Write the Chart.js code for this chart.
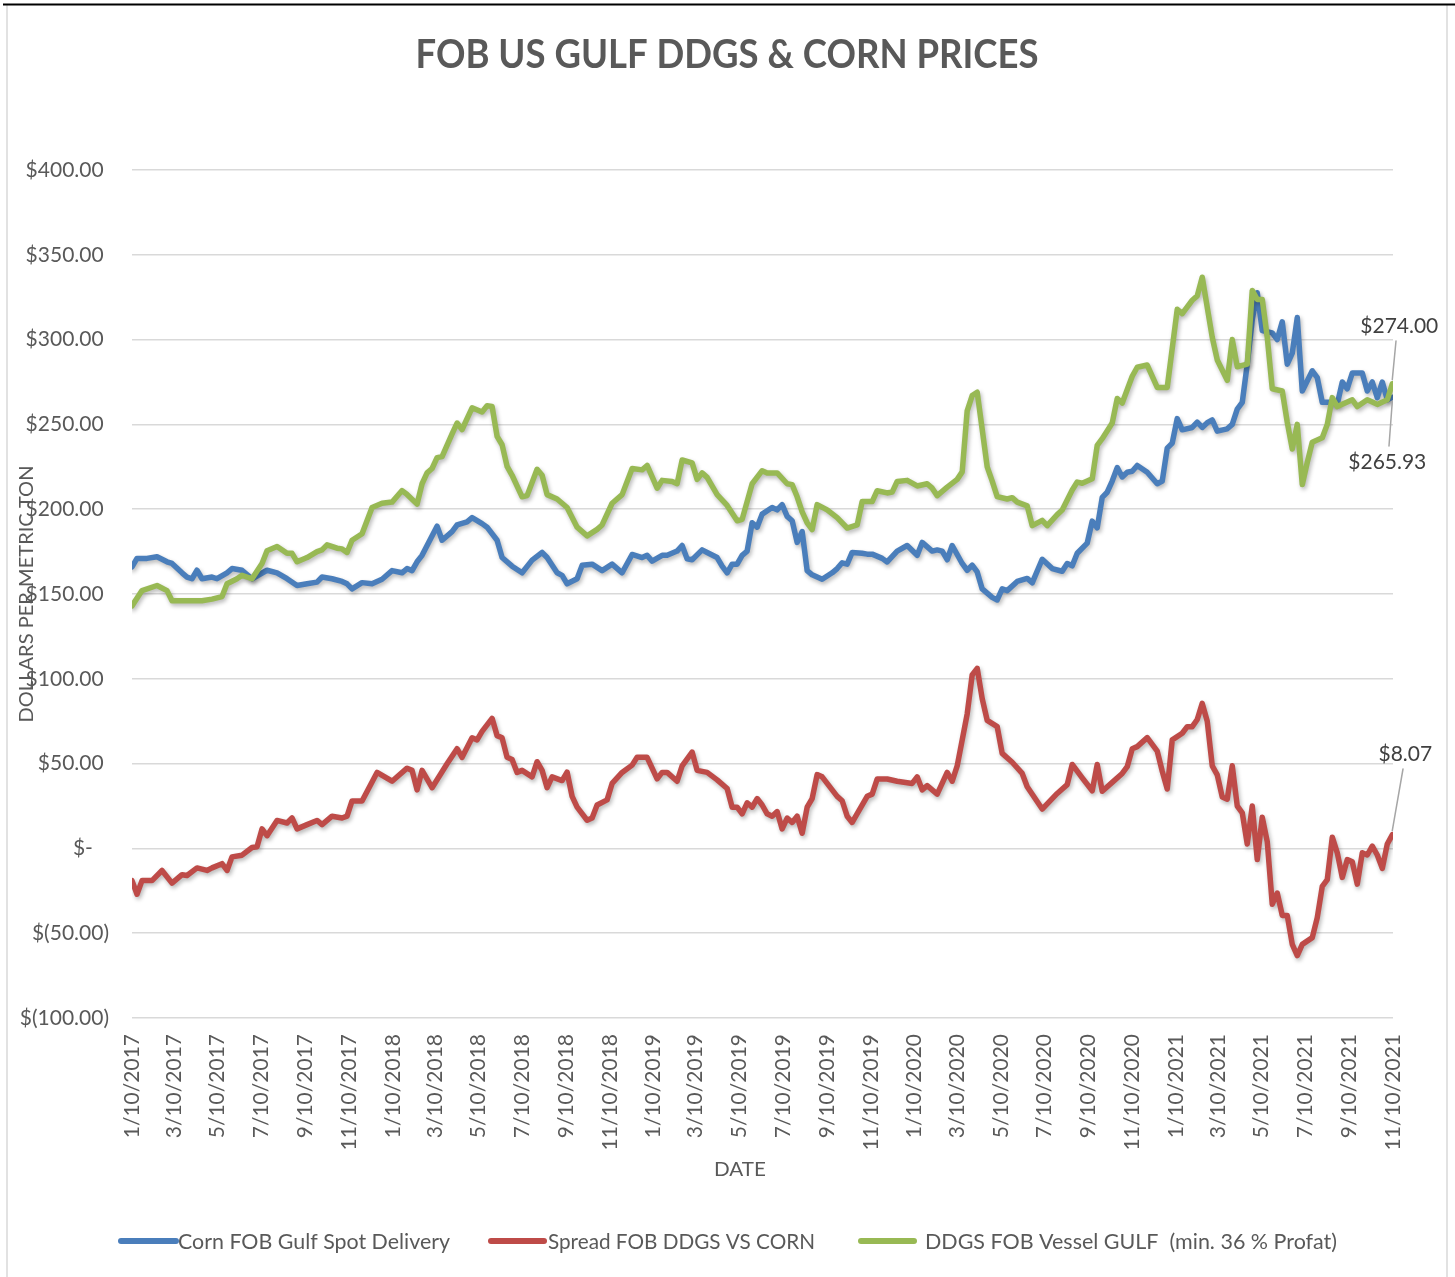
<!DOCTYPE html>
<html>
<head>
<meta charset="utf-8">
<title>FOB US Gulf DDGS &amp; Corn Prices</title>
<script src="https://cdn.jsdelivr.net/npm/chart.js@4.4.1/dist/chart.umd.min.js"></script>
<style>
  html, body { margin: 0; padding: 0; background: #fff; }
  #wrap { position: relative; width: 1455px; height: 1277px; }
</style>
</head>
<body>
<div id="wrap"><canvas id="chart"></canvas></div>
<script>
// x axis labels (every two months)
const tickLabels = ['1/10/2017', '3/10/2017', '5/10/2017', '7/10/2017', '9/10/2017', '11/10/2017',
  '1/10/2018', '3/10/2018', '5/10/2018', '7/10/2018', '9/10/2018', '11/10/2018',
  '1/10/2019', '3/10/2019', '5/10/2019', '7/10/2019', '9/10/2019', '11/10/2019',
  '1/10/2020', '3/10/2020', '5/10/2020', '7/10/2020', '9/10/2020', '11/10/2020',
  '1/10/2021', '3/10/2021', '5/10/2021', '7/10/2021', '9/10/2021', '11/10/2021'];
const yTicks = [-100, -50, 0, 50, 100, 150, 200, 250, 300, 350, 400];

// Corn FOB Gulf Spot Delivery ($/t), week number from 1/10/2017
const cornWeek = [0, 1, 3, 5, 7, 8, 10, 11, 12, 13, 14, 16, 17, 19, 20, 22, 24, 27, 29, 31, 33, 35, 37, 38, 40,
  42, 43, 44, 46, 48, 50, 52, 54, 55, 56, 57, 58, 61, 62, 64, 65, 67, 68, 70, 71, 73, 74, 76, 78, 80, 82, 83, 85,
  86, 87, 89, 90, 92, 94, 96, 98, 100, 102, 103, 104, 106, 107, 109, 110, 111, 112, 114, 115, 117, 118, 119, 120,
  121, 122, 123, 124, 125, 126, 128, 129, 130, 131, 132, 133, 134, 135, 136, 138, 140, 141, 142, 143, 144, 146,
  147, 148, 150, 151, 153, 155, 157, 158, 160, 161, 162, 163, 164, 166, 167, 168, 169, 170, 172, 173, 174, 175,
  177, 179, 180, 182, 184, 186, 187, 188, 189, 191, 192, 193, 194, 195, 196, 197, 198, 199, 200, 201, 203, 205,
  206, 207, 208, 209, 210, 212, 213, 214, 215, 216, 217, 219, 220, 221, 222, 223, 224, 225, 226, 228, 229, 230,
  231, 232, 233, 234, 236, 237, 238, 240, 241, 242, 243, 244, 246, 247, 248, 249, 250, 251, 252];
const cornPrice = [166, 171, 171, 172, 169, 168, 162.5, 160, 159, 164, 159, 160, 159, 162.5, 165, 164, 159, 164, 162.5, 159, 155, 156, 157, 160, 159,
  157.4, 156, 153, 156.7, 156, 158.7, 163.8, 162.5, 165, 163.8, 169, 172.8, 190, 181.7, 186.8, 190.7, 192.5, 195, 191.5, 189.4, 181.7, 171.5, 166.4, 162.5, 170, 174.5, 171.5, 162.5,
  161, 156, 159, 166.9, 167.6, 163.8, 167.6, 162.5, 173.3, 171.5, 172.8, 169.4, 172.8, 172.8, 175.3, 178.6, 170.7, 170.2, 176, 174.5, 171.5, 166.4, 162.5, 167.6,
  167.6, 172.8, 175.3, 192, 189.4, 197.1, 201, 199.6, 202.7, 195.8, 193.2, 180.4, 186.8, 163.8, 161.3, 158.7, 162.5, 165, 168.4, 167.6, 174.5, 174,
  173.5, 173.5, 171, 168.9, 175.3, 178.6, 172.8, 180.4, 175.3, 176, 175.3, 170.2, 178.6, 168, 164, 167, 163, 153, 148, 146.5, 153, 152,
  157.4, 159.2, 156.6, 170.5, 165, 163.4, 168, 166.6, 174, 180, 193, 189, 207, 210, 216.6, 224.5, 219, 221.8, 222.4, 225.8, 221.8, 215,
  216.6, 236, 239, 253.4, 246.8, 248.2, 251.3, 248.2, 251, 252.6, 246, 247.4, 250, 259, 263, 285.5, 311.8, 327.6, 305.3, 304, 300, 310.5,
  285.5, 292, 313, 269.7, 281.6, 277.6, 263, 263, 262, 275, 271, 280.3, 280.3, 269.7, 275, 265.8, 275, 264.5, 265.93];

// Spread FOB DDGS vs corn ($/t)
const spreadWeek = [0, 1, 2, 4, 6, 8, 10, 11, 13, 15, 16, 18, 19, 20, 22, 24, 25, 26, 27, 29, 31, 32, 33, 35, 37, 38, 40,
  42, 43, 44, 46, 49, 52, 55, 56, 57, 58, 60, 63, 65, 66, 68, 69, 70, 72, 73, 74, 75, 76, 77, 78, 80, 81, 82, 83, 84,
  86, 87, 88, 89, 91, 92, 93, 95, 96, 98, 100, 101, 103, 105, 106, 107, 109, 110, 112, 113, 115, 117, 119, 120, 121,
  122, 123, 124, 125, 126, 127, 128, 129, 130, 131, 132, 133, 134, 135, 136, 137, 138, 141, 142, 143, 144, 147, 148,
  149, 151, 153, 156, 157, 158, 159, 161, 163, 164, 165, 167, 168, 169, 170, 171, 173, 174, 176, 178, 179, 182, 185,
  187, 188, 190, 192, 193, 194, 196, 198, 199, 200, 201, 203, 205, 206, 207, 208, 210, 211, 212, 213, 214, 215, 216,
  217, 218, 219, 220, 221, 222, 223, 224, 225, 226, 227, 228, 229, 230, 231, 232, 233, 234, 236, 237, 238, 239, 240,
  241, 242, 243, 244, 245, 246, 247, 248, 249, 250, 251, 252];
const spreadValue = [-19, -27, -19, -19, -13, -20.5, -15.5, -16, -11.5, -13, -11.5, -9, -13, -5, -4, 0.5, 1, 11.5, 7.5, 16.5, 15, 18, 11.5, 14, 16.5, 14, 19,
  17.9, 19, 28, 28, 44.8, 39.6, 47.3, 46, 34.5, 46, 35.8, 49.9, 58.8, 53.7, 65.2, 64, 69, 76.7, 66.5, 65.2, 53.7, 52.4, 44.8, 46, 42.2, 51.1, 46, 35.8, 42.2,
  40, 45, 30.7, 24.3, 16.6, 17.9, 25.6, 28.6, 38.3, 44.8, 49.1, 53.7, 53.7, 41, 44.8, 44.8, 39.6, 48.6, 56.8, 46, 44.8, 40.4, 35.3, 24.3, 24.3,
  20.4, 26.9, 24.3, 29.4, 25.6, 20.4, 19, 21.7, 11.5, 17.9, 15.3, 19, 8.9, 24.3, 29.4, 43.5, 42.2, 30.7, 28.1, 19, 15.3, 30.7, 32,
  40.9, 40.9, 39.6, 38.3, 42.2, 34.5, 37, 32, 44.8, 39.6, 48.6, 79.3, 102.3, 106.2, 88.3, 75.5, 71.8, 56, 50.8, 44.2, 36.3, 23.2, 32.4,
  37.6, 49.5, 41.6, 34, 49.5, 33.7, 38.9, 44.2, 48.2, 58.7, 60, 65.3, 57.4, 45.5, 35, 64, 67.9, 71.8, 71.8, 76, 85.5, 75, 48.7,
  43.4, 30.3, 29, 48.7, 25, 21, 2.6, 25, -6.6, 18.4, 3.9, -32.9, -26.3, -39.5, -39.5, -56.6, -63.2, -56.6, -52.6, -40.8, -22.4, -18.4, 6.6,
  -2.6, -17.1, -6.6, -7.9, -21.1, -2.6, -3.9, 1.3, -3.9, -11.8, 2.6, 8.07];

// DDGS FOB Vessel Gulf ($/t)
const ddgsWeek = [0, 2, 5, 7, 8, 14, 16, 18, 19, 21, 22, 24, 26, 27, 29, 31, 32, 33, 35, 37, 38, 39, 41,
  42, 43, 44, 46, 48, 50, 52, 54, 55, 57, 58, 59, 60, 61, 62, 64, 65, 66, 68, 70, 71, 72, 73, 74, 75, 76, 78, 79, 81, 82, 83, 85,
  86, 87, 89, 91, 93, 94, 96, 98, 100, 102, 103, 105, 106, 108, 109, 110, 112, 113, 114, 115, 117, 119, 121, 122, 124, 126, 127,
  129, 131, 132, 133, 134, 135, 136, 137, 139, 141, 143, 145, 146, 148, 149, 151, 152, 153, 155, 157, 159, 160, 161, 163, 165,
  166, 167, 168, 169, 170, 171, 172, 173, 175, 176, 177, 179, 180, 182, 183, 185, 186, 188, 189, 190, 192, 193, 194, 196, 197,
  198, 200, 201, 203, 205, 207, 209, 210, 212, 213, 214, 216, 217, 219, 220, 221, 223, 224, 225, 226, 227, 228, 230, 231, 232,
  233, 234, 235, 236, 238, 239, 240, 241, 243, 244, 245, 247, 248, 249, 251, 252];
const ddgsPrice = [143, 152, 155, 152, 146, 146, 147, 148.5, 156, 159, 161, 159, 168, 175.5, 178, 174, 174, 169, 171.5, 175, 176, 179, 177,
  176.6, 174.5, 181.7, 185.5, 201, 203.5, 204.2, 211, 208.7, 203, 215, 221.4, 224, 230.4, 231, 244.4, 250.8, 247, 259.8, 257.3, 261, 260.6, 243, 238, 225.2, 220, 207.3, 208, 223.5, 220, 208.6, 206,
  203.5, 201, 189.4, 184.3, 188.1, 190.7, 203.5, 208.6, 224, 223.2, 225.8, 212.4, 217, 216.3, 215, 229, 227.3, 217.6, 221.4, 218.8, 208.6, 202.2, 193.2, 194, 215, 222.7, 221.4,
  221.4, 215, 214.5, 207.3, 198.4, 192, 188, 202.7, 199.6, 195, 188.9, 190.7, 204.5, 204.5, 210.9, 209.6, 210.1, 216.3, 217, 213.7, 215, 212.4, 208, 213, 217.6,
  222, 258, 267, 269, 247, 225, 216.6, 207.4, 206, 206.8, 204.2, 202, 190.3, 193.4, 190.3, 196.8, 199.5, 211.3, 216, 215.3, 217.9, 237.6, 241.6, 250.8, 265.3,
  262.6, 278.4, 283.7, 285, 271.8, 271.8, 317.9, 315.3, 323.2, 325.8, 336.8, 301.3, 288, 276, 300, 284, 285.5, 329, 323.7, 323.7, 301.3, 271, 269.7, 251.3, 235.5,
  250, 214.5, 227.6, 239.5, 242.1, 250, 265.8, 260.5, 263.2, 264.5, 260.5, 264.5, 263.2, 261.8, 264.5, 274];

const BLUE = '#4A7EBB';
const RED = '#BE4B48';
const GREEN = '#98B954';
const TEXT = '#595959';
const FONT = 'Lato, "Open Sans", sans-serif';

const startDay = Date.UTC(2017, 0, 10);
function dayOf(label) {
    const [m, d, y] = label.split('/').map(Number);
    return (Date.UTC(y, m - 1, d) - startDay) / 86400000;
}
const tickDays = tickLabels.map(dayOf);

function toPoints(weeks, values) {
    return weeks.map((w, i) => ({ x: w * 7, y: values[i] }));
}

function money(v) {
    if (v === 0) return '$-   ';
    const s = Math.abs(v).toFixed(2);
    return v < 0 ? '$(' + s + ')' : '$' + s + ' ';
}

// draw a text squeezed/stretched to a given width
function fitText(ctx, text, x, y, width, font, align) {
    ctx.save();
    ctx.font = font;
    const w = ctx.measureText(text).width;
    const k = width / w;
    ctx.translate(x, y);
    ctx.scale(k, 1);
    ctx.textAlign = align || 'left';
    ctx.fillText(text, 0, 0);
    ctx.restore();
}

// soft shadow under each line, like the Excel original
const lineShadow = {
    id: 'lineShadow',
    beforeDatasetDraw(chart) {
        const c = chart.ctx;
        c.save();
        c.shadowColor = 'rgba(0, 0, 0, 0.28)';
        c.shadowBlur = 4;
        c.shadowOffsetX = 1.5;
        c.shadowOffsetY = 2.5;
    },
    afterDatasetDraw(chart) {
        chart.ctx.restore();
    }
};

// title, axis titles, legend, end labels and frame
const decorations = {
    id: 'decorations',
    beforeDraw(chart) {
        const c = chart.ctx;
        c.save();
        c.fillStyle = '#fff';
        c.fillRect(0, 0, chart.width, chart.height);
        c.strokeStyle = '#d9d9d9';
        c.lineWidth = 1.5;
        c.beginPath();
        c.moveTo(7, 5); c.lineTo(7, chart.height);
        c.moveTo(1447, 5); c.lineTo(1447, chart.height);
        c.stroke();
        c.strokeStyle = '#000';
        c.lineWidth = 2;
        c.beginPath();
        c.moveTo(3, 4.5); c.lineTo(chart.width, 4.5);
        c.stroke();
        c.restore();
    },
    afterDraw(chart) {
        const c = chart.ctx;
        c.save();
        c.fillStyle = TEXT;
        c.textBaseline = 'middle';
        fitText(c, 'FOB US GULF DDGS & CORN PRICES', 727, 55, 623, 'bold 40px ' + FONT, 'center');

        c.save();
        c.translate(27, 594);
        c.rotate(-Math.PI / 2);
        fitText(c, 'DOLLARS PER METRIC TON', 0, 0, 257, '19px ' + FONT, 'center');
        c.restore();

        fitText(c, 'DATE', 740, 1170, 52, '19px ' + FONT, 'center');

        // legend
        const items = [
            { text: 'Corn FOB Gulf Spot Delivery', color: BLUE, x0: 121, x1: 176, tx: 178, w: 272 },
            { text: 'Spread FOB DDGS VS CORN', color: RED, x0: 491, x1: 544, tx: 548, w: 267 },
            { text: 'DDGS FOB Vessel GULF  (min. 36 % Profat)', color: GREEN, x0: 861, x1: 914, tx: 925, w: 412 }
        ];
        items.forEach(it => {
            c.strokeStyle = it.color;
            c.lineWidth = 6;
            c.lineCap = 'round';
            c.beginPath();
            c.moveTo(it.x0, 1241);
            c.lineTo(it.x1, 1241);
            c.stroke();
            c.fillStyle = TEXT;
            fitText(c, it.text, it.tx, 1242, it.w, '21px ' + FONT, 'left');
        });

        // labels on the last points
        const ends = [
            { ds: 2, text: '$274.00', dx: 7, dy: -57, lx0: 1396, ly0: 341 },
            { ds: 0, text: '$265.93', dx: -5, dy: 65, lx0: 1389, ly0: 446 },
            { ds: 1, text: '$8.07', dx: 13, dy: -80, lx0: 1403, ly0: 769 }
        ];
        ends.forEach(e => {
            const pts = chart.getDatasetMeta(e.ds).data;
            const p = pts[pts.length - 1];
            c.strokeStyle = '#a6a6a6';
            c.lineWidth = 1.5;
            c.beginPath();
            c.moveTo(e.lx0, e.ly0);
            c.lineTo(p.x, p.y + (e.dy > 0 ? 4 : -4));
            c.stroke();
            c.fillStyle = '#404040';
            c.font = '21px ' + FONT;
            c.textAlign = 'center';
            c.fillText(e.text, p.x + e.dx, p.y + e.dy);
        });
        c.restore();
    }
};

const lineStyle = {
    borderWidth: 5.5,
    pointRadius: 0,
    pointHoverRadius: 0,
    tension: 0,
    borderJoinStyle: 'round',
    borderCapStyle: 'round',
    fill: false
};

const chart = new Chart(document.getElementById('chart').getContext('2d'), {
    type: 'line',
    data: {
        datasets: [
            Object.assign({ label: 'Corn FOB Gulf Spot Delivery', data: toPoints(cornWeek, cornPrice), borderColor: BLUE, backgroundColor: BLUE, order: 2 }, lineStyle),
            Object.assign({ label: 'Spread FOB DDGS VS CORN', data: toPoints(spreadWeek, spreadValue), borderColor: RED, backgroundColor: RED, order: 1 }, lineStyle),
            Object.assign({ label: 'DDGS FOB Vessel GULF  (min. 36 % Profat)', data: toPoints(ddgsWeek, ddgsPrice), borderColor: GREEN, backgroundColor: GREEN, order: 0 }, lineStyle)
        ]
    },
    options: {
        responsive: true,
        maintainAspectRatio: false,
        animation: false,
        layout: { padding: { left: 0, right: 62, top: 170, bottom: 0 } },
        plugins: {
            legend: { display: false },
            title: { display: false },
            tooltip: { enabled: false }
        },
        scales: {
            x: {
                type: 'linear',
                min: 0,
                max: tickDays[tickDays.length - 1],
                afterBuildTicks: s => { s.ticks = tickDays.map(v => ({ value: v })); },
                afterFit: s => { s.height = 259; },
                grid: { display: false, drawTicks: false },
                border: { display: false },
                ticks: {
                    autoSkip: false,
                    minRotation: 90,
                    maxRotation: 90,
                    padding: 16,
                    color: TEXT,
                    font: { family: FONT, size: 21 },
                    callback: v => tickLabels[tickDays.indexOf(v)]
                }
            },
            y: {
                min: yTicks[0],
                max: yTicks[yTicks.length - 1],
                afterBuildTicks: s => { s.ticks = yTicks.map(v => ({ value: v })); },
                afterFit: s => { s.width = 132; },
                grid: { color: '#d9d9d9', lineWidth: 1.5, drawTicks: false },
                border: { display: false },
                ticks: {
                    padding: 23,
                    color: TEXT,
                    font: { family: FONT, size: 21 },
                    callback: v => money(v)
                }
            }
        }
    },
    plugins: [lineShadow, decorations]
});
</script>
</body>
</html>
